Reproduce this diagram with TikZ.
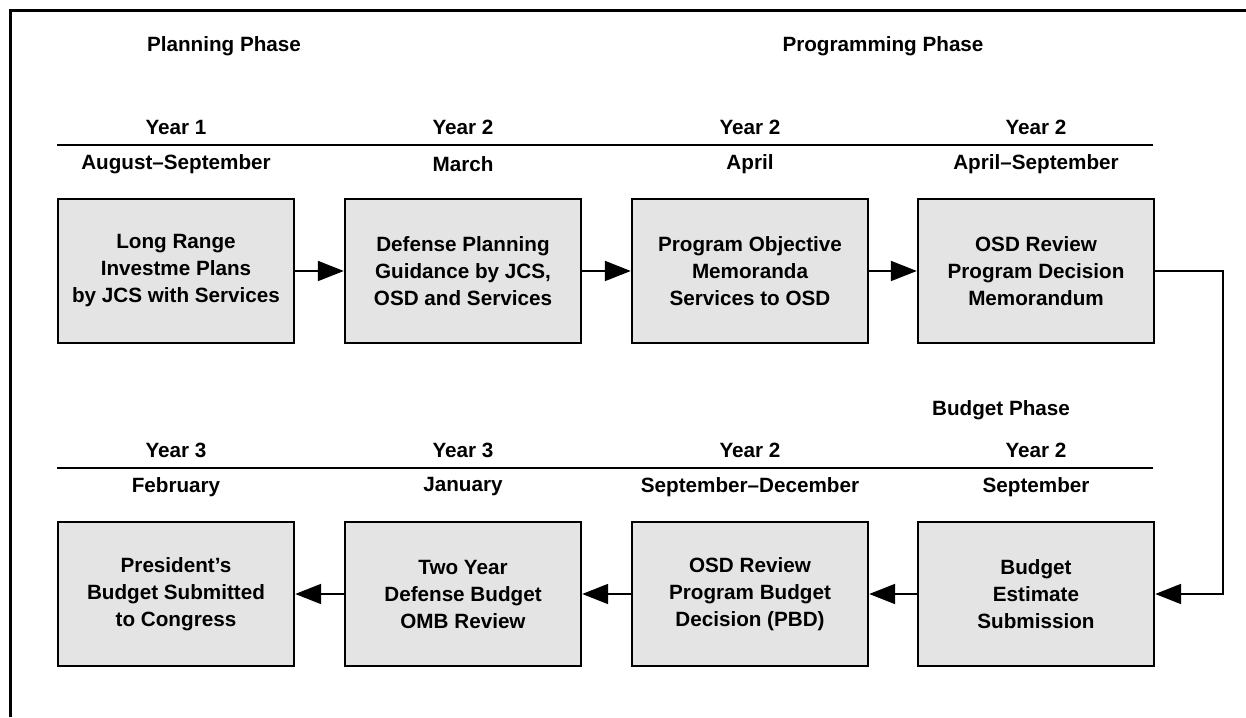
\documentclass[tikz,border=0pt]{standalone}
\usepackage{fontspec}
\setmainfont{Liberation Sans}
\usetikzlibrary{arrows.meta}
\definecolor{PPBBox}{HTML}{E4E4E4}
\definecolor{PPBInk}{HTML}{000000}

\begin{document}
\begin{tikzpicture}[x=1cm,y=1cm,
  phase/.style={font=\fontsize{14.7}{18}\selectfont\bfseries},
  stage/.style={draw=PPBInk,line width=1.7pt,fill=PPBBox,minimum width=5.9cm,minimum height=3.6cm,
    align=center,font=\fontsize{14.7}{19.2}\selectfont\bfseries},
  rule/.style={PPBInk,line width=1.4pt},
  flow/.style={PPBInk,line width=1.4pt,-{Triangle[length=0.65cm,width=0.5cm]}}]
\path[use as bounding box] (0,0) rectangle (31.15,17.925);
\draw[PPBInk,line width=1.9pt] (0.2625,0) -- (0.2625,17.6625) -- (31.15,17.6625);

% phase titles
\node[phase] (planning) at (5.60,16.775) {Planning Phase};
\node[phase] (programming) at (22.075,16.775) {Programming Phase};
\node[phase] (budget) at (25.025,7.675) {Budget Phase};

% top row headings
\node[phase] (y1) at (4.40,14.75) {Year 1};
\node[phase] (y2) at (11.575,14.75) {Year 2};
\node[phase] (y3) at (18.75,14.75) {Year 2};
\node[phase] (y4) at (25.90,14.75) {Year 2};
\draw[rule] (1.425,14.30) -- (28.825,14.30);
\node[phase] (m1) at (4.40,13.825) {August--September};
\node[phase] (m2) at (11.575,13.825) {March};
\node[phase] (m3) at (18.75,13.825) {April};
\node[phase] (m4) at (25.90,13.825) {April--September};

% bottom row headings
\node[phase] (y5) at (4.40,6.675) {Year 3};
\node[phase] (y6) at (11.575,6.675) {Year 3};
\node[phase] (y7) at (18.75,6.675) {Year 2};
\node[phase] (y8) at (25.90,6.675) {Year 2};
\draw[rule] (1.425,6.225) -- (28.825,6.225);
\node[phase] (m5) at (4.40,5.75) {February};
\node[phase] (m6) at (11.575,5.75) {January};
\node[phase] (m7) at (18.75,5.75) {September--December};
\node[phase] (m8) at (25.90,5.75) {September};

% stages
\node[stage] (lrip) at (4.40,11.15) {Long Range\\Investme Plans\\by JCS with Services};
\node[stage] (dpg) at (11.575,11.15) {Defense Planning\\Guidance by JCS,\\OSD and Services};
\node[stage] (pom) at (18.75,11.15) {Program Objective\\Memoranda\\Services to OSD};
\node[stage] (pdm) at (25.90,11.15) {OSD Review\\Program Decision\\Memorandum};
\node[stage] (pres) at (4.40,3.075) {President’s\\Budget Submitted\\to Congress};
\node[stage] (omb) at (11.575,3.075) {Two Year\\Defense Budget\\OMB Review};
\node[stage] (pbd) at (18.75,3.075) {OSD Review\\Program Budget\\Decision (PBD)};
\node[stage] (bes) at (25.90,3.075) {Budget\\Estimate\\Submission};

% connectors
\draw[flow] (lrip) -- (dpg);
\draw[flow] (dpg) -- (pom);
\draw[flow] (pom) -- (pdm);
\coordinate (turn) at (30.575,11.15);
\draw[flow] (pdm.east) -- (turn) |- (bes.east);
\draw[flow] (bes) -- (pbd);
\draw[flow] (pbd) -- (omb);
\draw[flow] (omb) -- (pres);
\end{tikzpicture}
\end{document}
